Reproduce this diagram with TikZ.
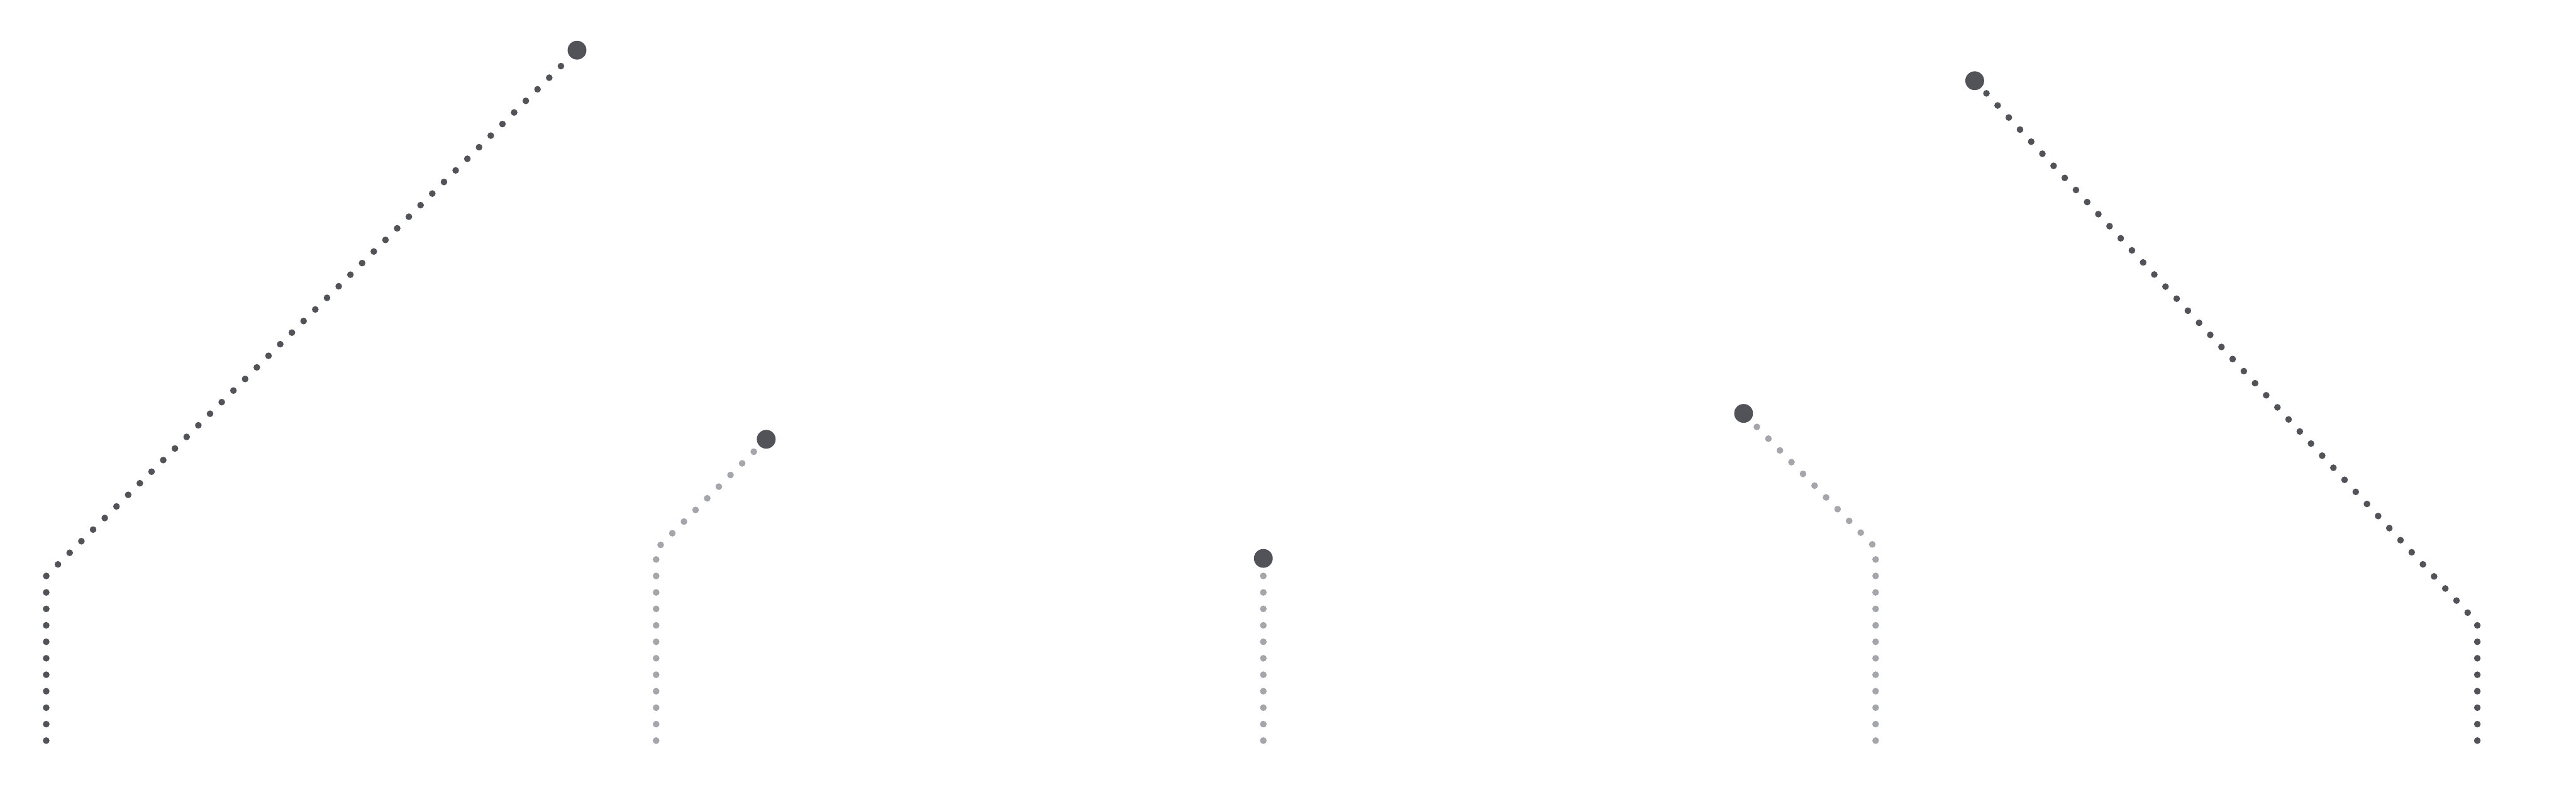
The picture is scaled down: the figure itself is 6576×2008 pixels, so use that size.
\documentclass[tikz,border=0pt]{standalone}
\usepackage{xcolor}
\usepackage{tikz}
\usetikzlibrary{positioning}

\definecolor{leaddark}{HTML}{525358}
\definecolor{leadlight}{HTML}{A4A6AC}

\begin{document}
\begin{tikzpicture}[
    x=0.01cm, y=-0.01cm,
    tipdot/.style={circle, fill=leaddark, draw=none, inner sep=0pt, minimum size=0.48cm},
    leader/.style={line width=0.17cm, line cap=round, dash pattern=on 0pt off 0.42cm},
    leaderdark/.style={leader, draw=leaddark},
    leaderlight/.style={leader, draw=leadlight}
]
    \useasboundingbox (0,0) rectangle (6576,2008);

    % Tip dots of the leader lines
    \node[tipdot] (TIP1) at (1473, 128) {};
    \node[tipdot] (TIP2) at (1956, 1121) {};
    \node[tipdot] (TIP3) at (3225, 1425) {};
    \node[tipdot] (TIP4) at (4451, 1055) {};
    \node[tipdot] (TIP5) at (5041, 206) {};

    % Feet and bends
    \coordinate (FOOT1) at (118, 1890);
    \coordinate (BEND1) at (118, 1470);
    \coordinate (FOOT2) at (1675, 1890);
    \coordinate (BEND2) at (1675, 1402);
    \coordinate (FOOT3) at (3225, 1890);
    \coordinate (FOOT4) at (4788, 1890);
    \coordinate (BEND4) at (4788, 1398);
    \coordinate (FOOT5) at (6324, 1890);
    \coordinate (BEND5) at (6324, 1590);

    % Leader lines
    \draw[leaderdark] (FOOT1) -- (BEND1) -- (TIP1);
    \draw[leaderlight] (FOOT2) -- (BEND2) -- (TIP2);
    \draw[leaderlight] (FOOT3) -- (TIP3);
    \draw[leaderlight] (FOOT4) -- (BEND4) -- (TIP4);
    \draw[leaderdark] (FOOT5) -- (BEND5) -- (TIP5);
\end{tikzpicture}
\end{document}
